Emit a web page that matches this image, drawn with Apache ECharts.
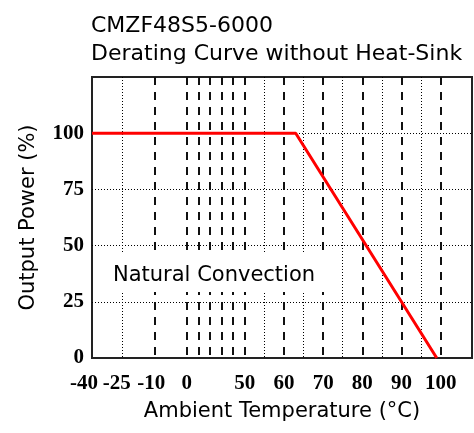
<!DOCTYPE html>
<html>
<head>
<meta charset="utf-8">
<script src="https://cdn.jsdelivr.net/npm/echarts@6/dist/echarts.min.js"></script>
<style>
html,body{margin:0;padding:0;background:#fff;}
#chart{width:474px;height:433px;}
</style>
</head>
<body>
<div id="chart"></div>
<script>
// ---- data ----
const tempC = [-40, 63, 99];          // ambient temperature (°C)
const powerPct = [100, 100, 0];       // output power (%)
const xLabelTemps = [-40, -25, -10, 0, 50, 60, 70, 80, 90, 100];
const dashedGridTemps = [-10, 0, 10, 20, 30, 40, 50, 60, 70, 80, 90, 100];
const dottedGridTemps = [-25, 55, 65, 75, 85, 95];
const yTicks = [0, 25, 50, 75, 100];
const yGrid = [25, 50, 75, 100];
// piecewise temperature scale used by the original chart (°C -> axis unit)
const scaleTemp = [-40, -25, -10, 0, 50, 108];
const scaleUnit = [11, 18.7, 27, 35.2, 50, 108];

function toAxis(t) {
  for (let i = 0; i < scaleTemp.length - 1; i++) {
    if (t <= scaleTemp[i + 1] || i === scaleTemp.length - 2) {
      const f = (t - scaleTemp[i]) / (scaleTemp[i + 1] - scaleTemp[i]);
      return scaleUnit[i] + f * (scaleUnit[i + 1] - scaleUnit[i]);
    }
  }
}
const labelMap = {};
xLabelTemps.forEach(t => { labelMap[toAxis(t).toFixed(3)] = t; });

const chart = echarts.init(document.getElementById('chart'));
const serif = 'Liberation Serif';
const sans = 'DejaVu Sans';
const labelRich = {
  a: {fontFamily: serif, fontWeight: 'bold', fontSize: 21, color: '#000', padding: [0, 16, 0, 0]},
  b: {fontFamily: serif, fontWeight: 'bold', fontSize: 21, color: '#000', padding: [0, 11, 0, 0]},
  c: {fontFamily: serif, fontWeight: 'bold', fontSize: 21, color: '#000', padding: [0, 7, 0, 0]},
  n: {fontFamily: serif, fontWeight: 'bold', fontSize: 21, color: '#000'}
};
const option = {
  backgroundColor: '#fff',
  animation: false,
  title: {
    text: 'CMZF48S5-6000\nDerating Curve without Heat-Sink',
    left: 91, top: 12, padding: 0,
    textStyle: {fontFamily: sans, fontSize: 22, fontWeight: 'normal', color: '#000', lineHeight: 28.5}
  },
  grid: {left: 92, top: 77, right: 2, bottom: 75, show: true, borderColor: '#222', borderWidth: 2, backgroundColor: 'transparent'},
  xAxis: [{
    type: 'value', min: toAxis(-40), max: toAxis(108),
    name: 'Ambient Temperature (°C)', nameLocation: 'middle', nameGap: 43,
    nameTextStyle: {fontFamily: sans, fontSize: 21, color: '#000'},
    axisLine: {show: false},
    axisTick: {show: false, customValues: dashedGridTemps.map(toAxis)},
    axisLabel: {
      customValues: xLabelTemps.map(toAxis), margin: 15,
      fontFamily: serif, fontWeight: 'bold', fontSize: 21, color: '#000',
      formatter: function (v) {
        const t = labelMap[Number(v).toFixed(3)];
        if (t === undefined) return '';
        if (t === -40) return '{a|' + t + '}';
        if (t === -25) return '{b|' + t + '}';
        if (t === -10) return '{c|' + t + '}';
        return '{n|' + t + '}';
      },
      rich: labelRich
    },
    splitLine: {show: true, lineStyle: {color: '#111', width: 2, type: [8, 7]}}
  }, {
    type: 'value', min: toAxis(-40), max: toAxis(108), position: 'bottom',
    axisLine: {show: false},
    axisTick: {show: false, customValues: dottedGridTemps.map(toAxis)},
    axisLabel: {show: false},
    splitLine: {show: true, lineStyle: {color: '#000', width: 1, type: [1, 2]}}
  }],
  yAxis: {
    type: 'value', min: 0, max: 125,
    name: 'Output Power (%)', nameLocation: 'middle', nameGap: 53,
    nameTextStyle: {fontFamily: sans, fontSize: 21, color: '#000'},
    axisLine: {show: false},
    axisTick: {show: false, customValues: yGrid},
    axisLabel: {customValues: yTicks, margin: 8, fontFamily: serif, fontWeight: 'bold', fontSize: 21, color: '#000'},
    splitLine: {show: true, lineStyle: {color: '#000', width: 1, type: [1, 2]}}
  },
  graphic: [{
    type: 'rect', z: 10, silent: true,
    shape: {x: 97, y: 254, width: 236, height: 38},
    style: {fill: '#fff'}
  }, {
    type: 'text', left: 113, top: 265, z: 11,
    style: {text: 'Natural Convection', fontFamily: sans, fontSize: 21, fill: '#000'}
  }],
  series: [{
    type: 'line', xAxisIndex: 0,
    data: tempC.map((t, i) => [toAxis(t), powerPct[i]]),
    showSymbol: false, symbol: 'none',
    lineStyle: {color: '#ff0000', width: 3},
    z: 5
  }]
};
chart.setOption(option);
</script>
</body>
</html>
